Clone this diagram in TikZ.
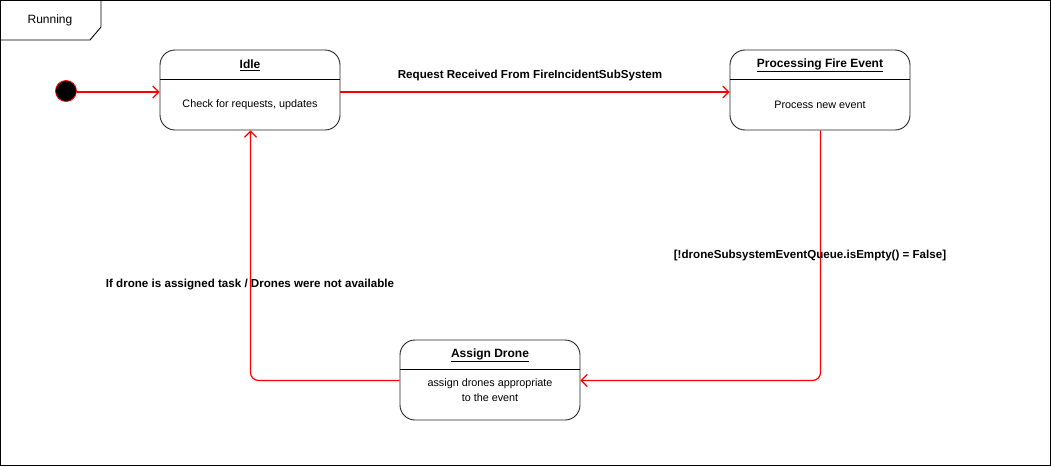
\documentclass[tikz,border=0pt]{standalone}
\usepackage{fontspec}
\setmainfont{Liberation Sans}
\usetikzlibrary{arrows.meta}
\definecolor{linered}{RGB}{255,0,0}
\begin{document}
\begin{tikzpicture}[x=1pt,y=-1pt,
  statebox/.style={draw=black!85, line width=0.9pt, rounded corners=15pt, minimum width=180pt, minimum height=80pt, inner sep=0pt, fill=white},
  ttl/.style={font=\fontsize{12}{14}\selectfont\bfseries, inner sep=0pt},
  body/.style={font=\fontsize{10.8}{15}\selectfont, align=center, inner sep=0pt},
  lbl/.style={font=\fontsize{11.6}{13}\selectfont\bfseries, inner sep=0pt},
  trans/.style={draw=linered, line width=1.2pt, -{Straight Barb[length=6pt,width=12pt]}, rounded corners=8pt}]
\useasboundingbox (0,0) rectangle (1051,466);
\draw[line width=0.9pt] (0.5,0.5) rectangle (1050.5,465.5);
\draw[line width=0.9pt] (0.5,40) -- (90,40) -- (101,27) -- (101,0.5);
\node[font=\fontsize{12}{14}\selectfont, inner sep=0pt] (frame) at (50,20) {Running};

\node[circle, fill=black, draw=linered, line width=0.8pt, minimum size=21pt, inner sep=0pt] (init) at (66,91) {};

\node[statebox] (idle) at (250,90) {};
\draw[line width=0.9pt] ([yshift=-30pt]idle.north west) -- ([yshift=-30pt]idle.north east);
\node[ttl] (idlet) at (250,65) {\underline{Idle}};
\node[body] (idleb) at (250,105) {Check for requests, updates};

\node[statebox] (proc) at (820,90) {};
\draw[line width=0.9pt] ([yshift=-30pt]proc.north west) -- ([yshift=-30pt]proc.north east);
\node[ttl] (proct) at (820,65) {\underline{Processing Fire Event}};
\node[body] (procb) at (820,105) {Process new event};

\node[statebox] (assign) at (490,380) {};
\draw[line width=0.9pt] ([yshift=-30pt]assign.north west) -- ([yshift=-30pt]assign.north east);
\node[ttl] (assignt) at (490,355) {\underline{Assign Drone}};
\node[body] (assignb) at (490,390) {assign drones appropriate\\to the event};

\coordinate (r1) at (0,92);
\draw[trans] (init.east |- r1) -- (idle.west |- r1);
\draw[trans] (idle.east |- r1) -- (proc.west |- r1);
\node[lbl] (l1) at (530,75) {Request Received From FireIncidentSubSystem};

\coordinate (c1) at (820.5,380.5);
\draw[trans] (proc.south -| c1) -- (c1) -- (assign.east |- c1);
\node[lbl] (l2) at (810,255) {[!droneSubsystemEventQueue.isEmpty() = False]};

\coordinate (c2) at (250.5,380.5);
\draw[trans] (assign.west |- c2) -- (c2) -- (idle.south -| c2);
\node[lbl] (l3) at (250,285) {If drone is assigned task / Drones were not available};
\end{tikzpicture}
\end{document}
